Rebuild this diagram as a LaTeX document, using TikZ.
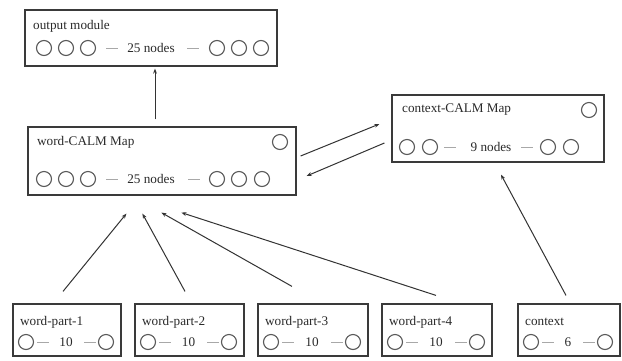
\documentclass[tikz,border=0pt]{standalone}
\usepackage{fontspec}
\setmainfont{Liberation Serif}
\usetikzlibrary{arrows.meta,calc}
\definecolor{boxc}{HTML}{3A3A3A}
\definecolor{unitc}{HTML}{5A5A5A}
\definecolor{dashc}{HTML}{A8A8A8}
\definecolor{txtc}{HTML}{2A2A2A}
\definecolor{linec}{HTML}{333333}

\begin{document}
\begin{tikzpicture}[x=1pt,y=-1pt,
  box/.style={draw=boxc, line width=1.2pt, inner sep=0pt, rectangle},
  lbl/.style={text=txtc, inner sep=0pt, font=\fontsize{13.2}{15}\selectfont},
  unit/.style={draw=unitc, line width=1.1pt},
  gap/.style={draw=dashc, line width=0.9pt},
  arr/.style={draw=linec, line width=1pt, -{Stealth[length=5pt,width=3.8pt]}}]

\useasboundingbox[fill=white] (0,0) rectangle (622,360);

% ---------- output module ----------
\node[box, minimum width=252pt, minimum height=56pt] (out) at (151,38) {};
\node[lbl, anchor=west] at (33,26) {output module};
\foreach \x in {44,66,88,217,239,261} \draw[unit] (\x,48) circle[radius=7.5];
\draw[gap] (106,48) -- (118,48);
\draw[gap] (187,48) -- (199,48);
\node[lbl] at (151,48) {25 nodes};

% ---------- word-CALM map ----------
\node[box, minimum width=268pt, minimum height=68pt] (word) at (162,161) {};
\node[lbl, anchor=west] at (37,142) {word-CALM Map};
\draw[unit] (280,142) circle[radius=7.5];
\foreach \x in {44,66,88,217,239,262} \draw[unit] (\x,179) circle[radius=7.5];
\draw[gap] (106,179) -- (118,179);
\draw[gap] (188,179) -- (200,179);
\node[lbl] at (151,179) {25 nodes};

% ---------- context-CALM map ----------
\node[box, minimum width=212pt, minimum height=67pt] (ctx) at (498,128.5) {};
\node[lbl, anchor=west] at (402,110) {context-CALM Map};
\draw[unit] (589,110) circle[radius=7.5];
\foreach \x in {407,430,548,571} \draw[unit] (\x,147) circle[radius=7.5];
\draw[gap] (444,147) -- (456,147);
\draw[gap] (521,147) -- (533,147);
\node[lbl] at (491,147) {9 nodes};

% ---------- input modules ----------
\foreach \nm/\lft/\rgt/\txt/\nval in {wpa/13/121/word-part-1/10, wpb/135/244/word-part-2/10,
    wpc/258/368/word-part-3/10, wpd/382/492/word-part-4/10, cin/518/620/context/6} {
  \pgfmathsetmacro{\bxc}{(\lft+\rgt)/2}
  \pgfmathsetmacro{\bxw}{\rgt-\lft}
  \node[box, minimum width=\bxw pt, minimum height=52pt] (\nm) at (\bxc,330) {};
  \node[lbl, anchor=west] at (\lft+7,322) {\txt};
  \draw[unit] (\lft+13,342) circle[radius=7.5];
  \draw[unit] (\rgt-15,342) circle[radius=7.5];
  \draw[gap] (\lft+24,342) -- (\lft+36,342);
  \draw[gap] (\rgt-37,342) -- (\rgt-25,342);
  \node[lbl] at (\bxc-1,342) {\nval};
}

% ---------- connections ----------
\draw[arr] ($(word.north)+(-7,-7)$) -- ($(out.south)+(4,2)$);
\draw[arr] ($(word.east)+(4,-5)$) -- ($(ctx.west)+(-12,-4.5)$);
\draw[arr] ($(ctx.west)+(-7,14.5)$) -- ($(word.east)+(10,15)$);

\draw[arr] ($(wpa.north)+(-4,-12)$) -- ($(word.south west)+(99,18)$);
\draw[arr] ($(wpb.north)+(-4.5,-12)$) -- ($(word.south west)+(115,18)$);
\draw[arr] ($(wpc.north)+(-21,-17)$) -- ($(word.south west)+(134,17)$);
\draw[arr] ($(wpd.north)+(-1,-8)$) -- ($(word.south west)+(154,17)$);
\draw[arr] ($(cin.north)+(-3,-8)$) -- ($(ctx.south)+(3,12)$);

\end{tikzpicture}
\end{document}
